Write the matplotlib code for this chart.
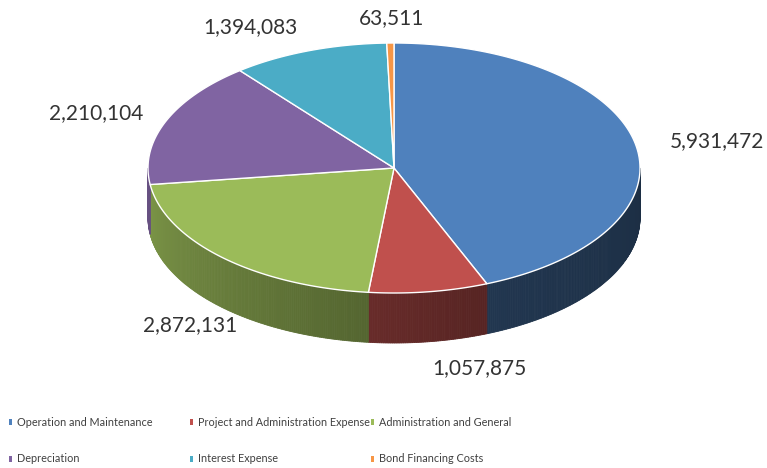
"""
3D-style pie chart of annual expense categories
"""

import numpy as np
import matplotlib.pyplot as plt
from matplotlib.patches import Polygon, Rectangle
from matplotlib.colors import to_rgb

# Data
categories = ['Operation and Maintenance', 'Project and Administration Expense',
              'Administration and General', 'Depreciation', 'Interest Expense',
              'Bond Financing Costs']
values = [5931472, 1057875, 2872131, 2210104, 1394083, 63511]
colors = ['#4F81BD', '#C0504D', '#9BBB59', '#8064A2', '#4BACC6', '#F79646']

# Geometry of the tilted pie (pixel coordinates)
cx, cy = 394, 168
rx, ry = 246, 125
depth = 50

# Label nudges (pixels), layout only
label_nudge = [(8, 2), (40, 2), (20, 0), (0, 1), (-33, 0), (2, 0)]


def ellipse_pt(theta_deg):
    t = np.radians(theta_deg)
    return cx + rx * np.cos(t), cy - ry * np.sin(t)


def shade(color, theta_deg):
    # side walls get darker towards the front-right
    th = theta_deg % 360
    if th <= 292:
        f = 0.82 - (th - 180) * 0.0033
    else:
        f = 0.42 - (th - 292) * 0.0009
    return tuple(c * f for c in to_rgb(color))


fig = plt.figure(figsize=(7.67, 4.68), dpi=100)
ax = fig.add_axes([0, 0, 1, 1])
ax.set_xlim(0, 767)
ax.set_ylim(468, 0)
ax.axis('off')

total = float(sum(values))
angles = []
start = 90.0
for v in values:
    sweep = 360.0 * v / total
    angles.append((start - sweep, start))  # clockwise from top
    start -= sweep

# Side walls (front half only)
for (a0, a1), col in zip(angles, colors):
    ts = np.linspace(a0, a1, max(4, int((a1 - a0) * 2)))
    for t0, t1 in zip(ts[:-1], ts[1:]):
        tm = (t0 + t1) / 2
        if np.sin(np.radians(tm)) >= 0:
            continue
        x0, y0 = ellipse_pt(t0)
        x1, y1 = ellipse_pt(t1)
        c = shade(col, tm)
        ax.add_patch(Polygon([(x0, y0), (x1, y1), (x1, y1 + depth), (x0, y0 + depth)],
                             closed=True, facecolor=c, edgecolor=c, lw=0.6))

# Top faces
for (a0, a1), col in zip(angles, colors):
    ts = np.linspace(a0, a1, max(3, int((a1 - a0) * 2)))
    pts = [(cx, cy)] + [ellipse_pt(t) for t in ts]
    ax.add_patch(Polygon(pts, closed=True, facecolor=col, edgecolor='white', lw=1.0))

# Data labels
for (a0, a1), v, (dx, dy) in zip(angles, values, label_nudge):
    m = (a0 + a1) / 2
    px, py = ellipse_pt(m)
    s = np.sin(np.radians(m))
    if s < 0:
        py += depth
    lx = px + 75 * np.cos(np.radians(m)) + dx
    ly = py - 25 * s + dy
    ax.text(lx, ly, f'{v:,}', ha='center', va='center', fontsize=15,
            family='Lato', color='#333333')

# Legend (row-major, three columns)
for i, (name, col) in enumerate(zip(categories, colors)):
    r, c = divmod(i, 3)
    x = 10 + c * 181
    y = 422 + r * 37
    ax.add_patch(Rectangle((x - 1, y - 3), 2.5, 6, facecolor=col, edgecolor='none'))
    ax.text(x + 7, y, name, ha='left', va='center', fontsize=7.8,
            family='Lato', color='#404040')

plt.savefig('out.png', dpi=100)
